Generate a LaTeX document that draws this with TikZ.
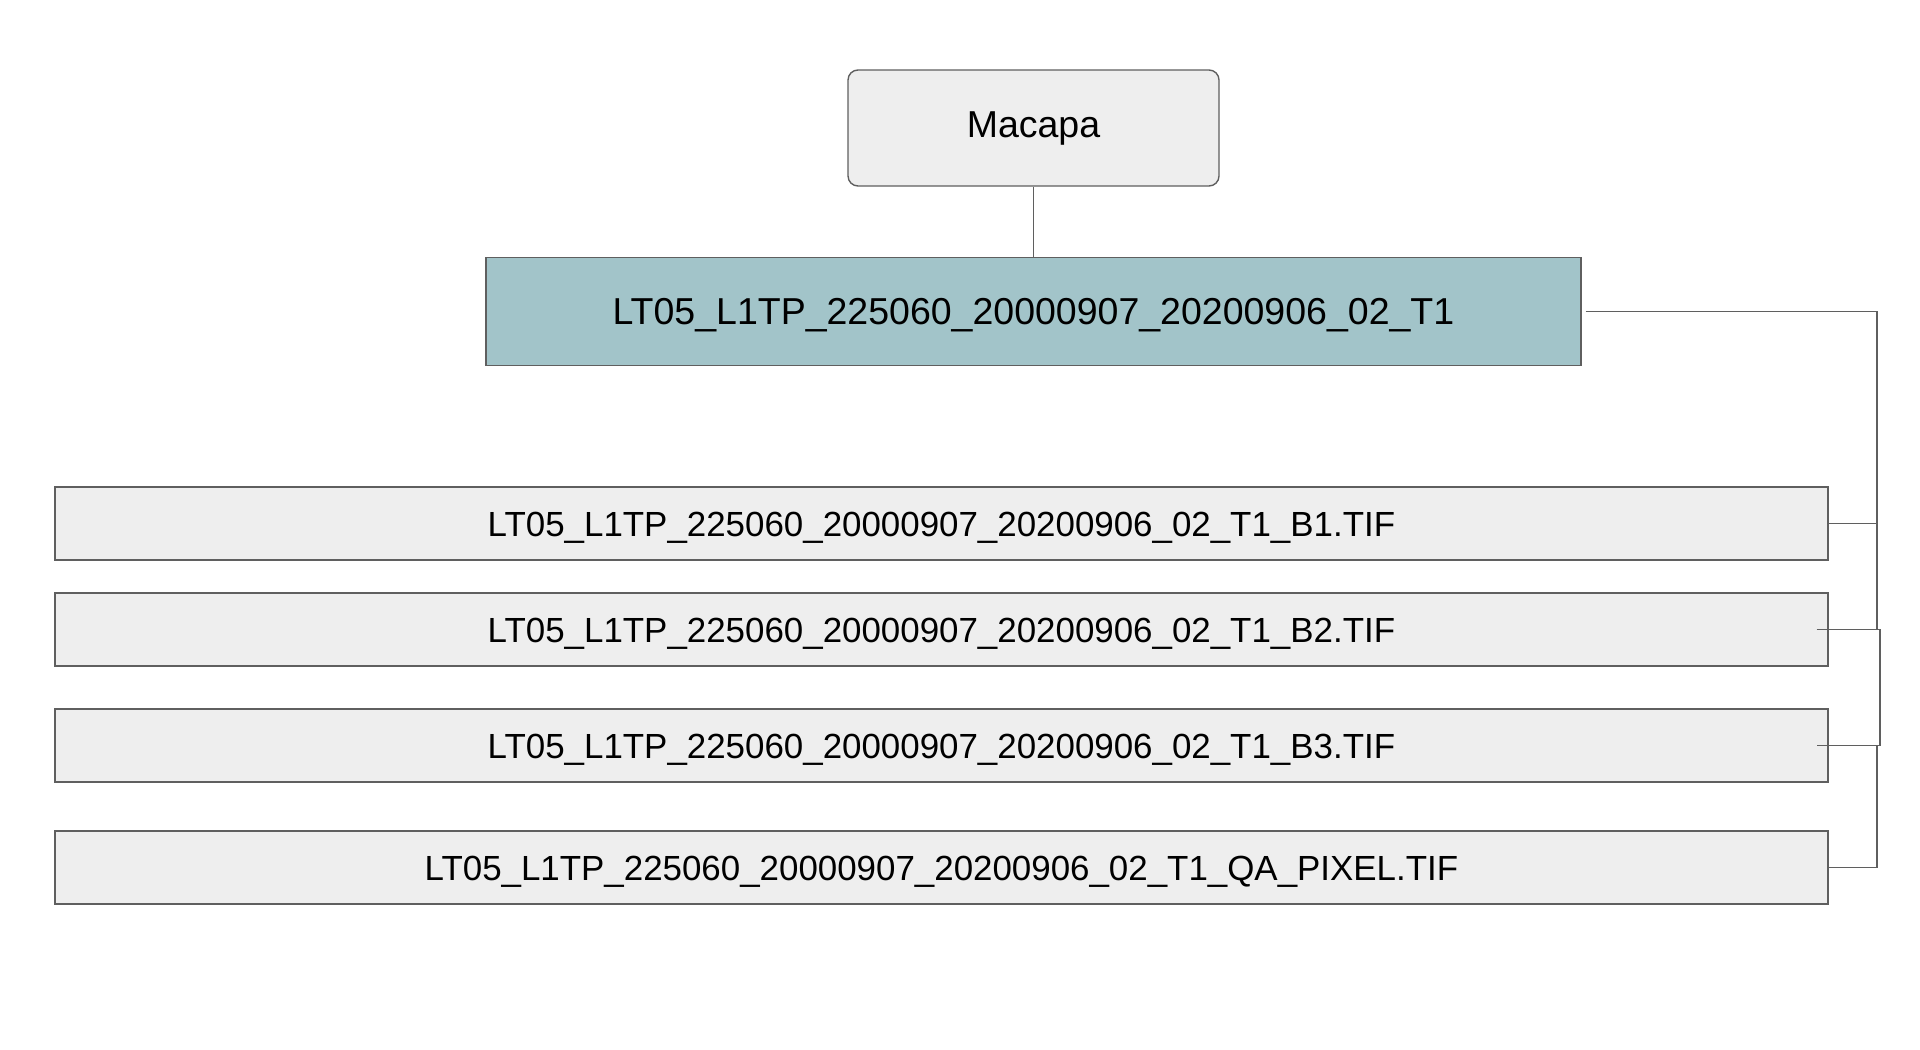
\documentclass[tikz,border=0pt]{standalone}
\usepackage{fontspec}
\setmainfont{Liberation Sans}
\usepackage{tikz}
\definecolor{boxgray}{HTML}{EEEEEE}
\definecolor{scenefill}{HTML}{A2C4C9}
\definecolor{edgegray}{HTML}{5F5F5F}
\tikzset{
    folderbox/.style={draw=edgegray, fill=boxgray, line width=0.7pt, rounded corners=5pt,
        minimum width=185.5pt, minimum height=58pt, inner sep=0pt,
        font=\fontsize{18.75}{22}\selectfont},
    scenebox/.style={draw=edgegray, fill=scenefill, line width=0.7pt,
        minimum width=547.5pt, minimum height=54pt, inner sep=0pt,
        text height=13.4pt, text depth=0pt,
        font=\fontsize{18.75}{22}\selectfont},
    bandbox/.style={draw=edgegray, fill=boxgray, line width=0.7pt,
        minimum width=886.5pt, minimum height=36.5pt, inner sep=0pt,
        text height=12.5pt, text depth=0pt,
        font=\fontsize{17.45}{21}\selectfont},
    conn/.style={draw=edgegray, line width=0.8pt}
}

\begin{document}
\begin{tikzpicture}[x=0.5pt, y=-0.5pt]
    % Page frame
    \useasboundingbox (0,0) rectangle (1920,1049);

    % Folder and scene
    \node[folderbox] (macapa) at (1033.5,128) {Macapa};
    \node[scenebox] (scene) at (1033.5,311.5) {LT05\_L1TP\_225060\_20000907\_20200906\_02\_T1};

    % Band files
    \node[bandbox] (b1) at (941.5,523.5) {LT05\_L1TP\_225060\_20000907\_20200906\_02\_T1\_B1.TIF};
    \node[bandbox] (b2) at (941.5,629.5) {LT05\_L1TP\_225060\_20000907\_20200906\_02\_T1\_B2.TIF};
    \node[bandbox] (b3) at (941.5,745.5) {LT05\_L1TP\_225060\_20000907\_20200906\_02\_T1\_B3.TIF};
    \node[bandbox] (qa) at (941.5,867.5) {LT05\_L1TP\_225060\_20000907\_20200906\_02\_T1\_QA\_PIXEL.TIF};

    % Bus points on the right
    \coordinate (busB1) at (1877,523.5);
    \coordinate (busB2) at (1877,629.5);
    \coordinate (busB3) at (1880,745.5);
    \coordinate (busQA) at (1877,867.5);

    % Connectors
    \draw[conn] (macapa.south) -- (scene.north);
    \draw[conn] ([xshift=2pt]scene.east) -| (busB1) -- (b1.east);
    \draw[conn] (b1.east) -| (busB2) -- ([xshift=-6pt]b2.east);
    \draw[conn] ([xshift=-6pt]b2.east) -| (busB3) -- ([xshift=-6pt]b3.east);
    \draw[conn] (b3.east) -| (busQA) -- (qa.east);
\end{tikzpicture}
\end{document}
